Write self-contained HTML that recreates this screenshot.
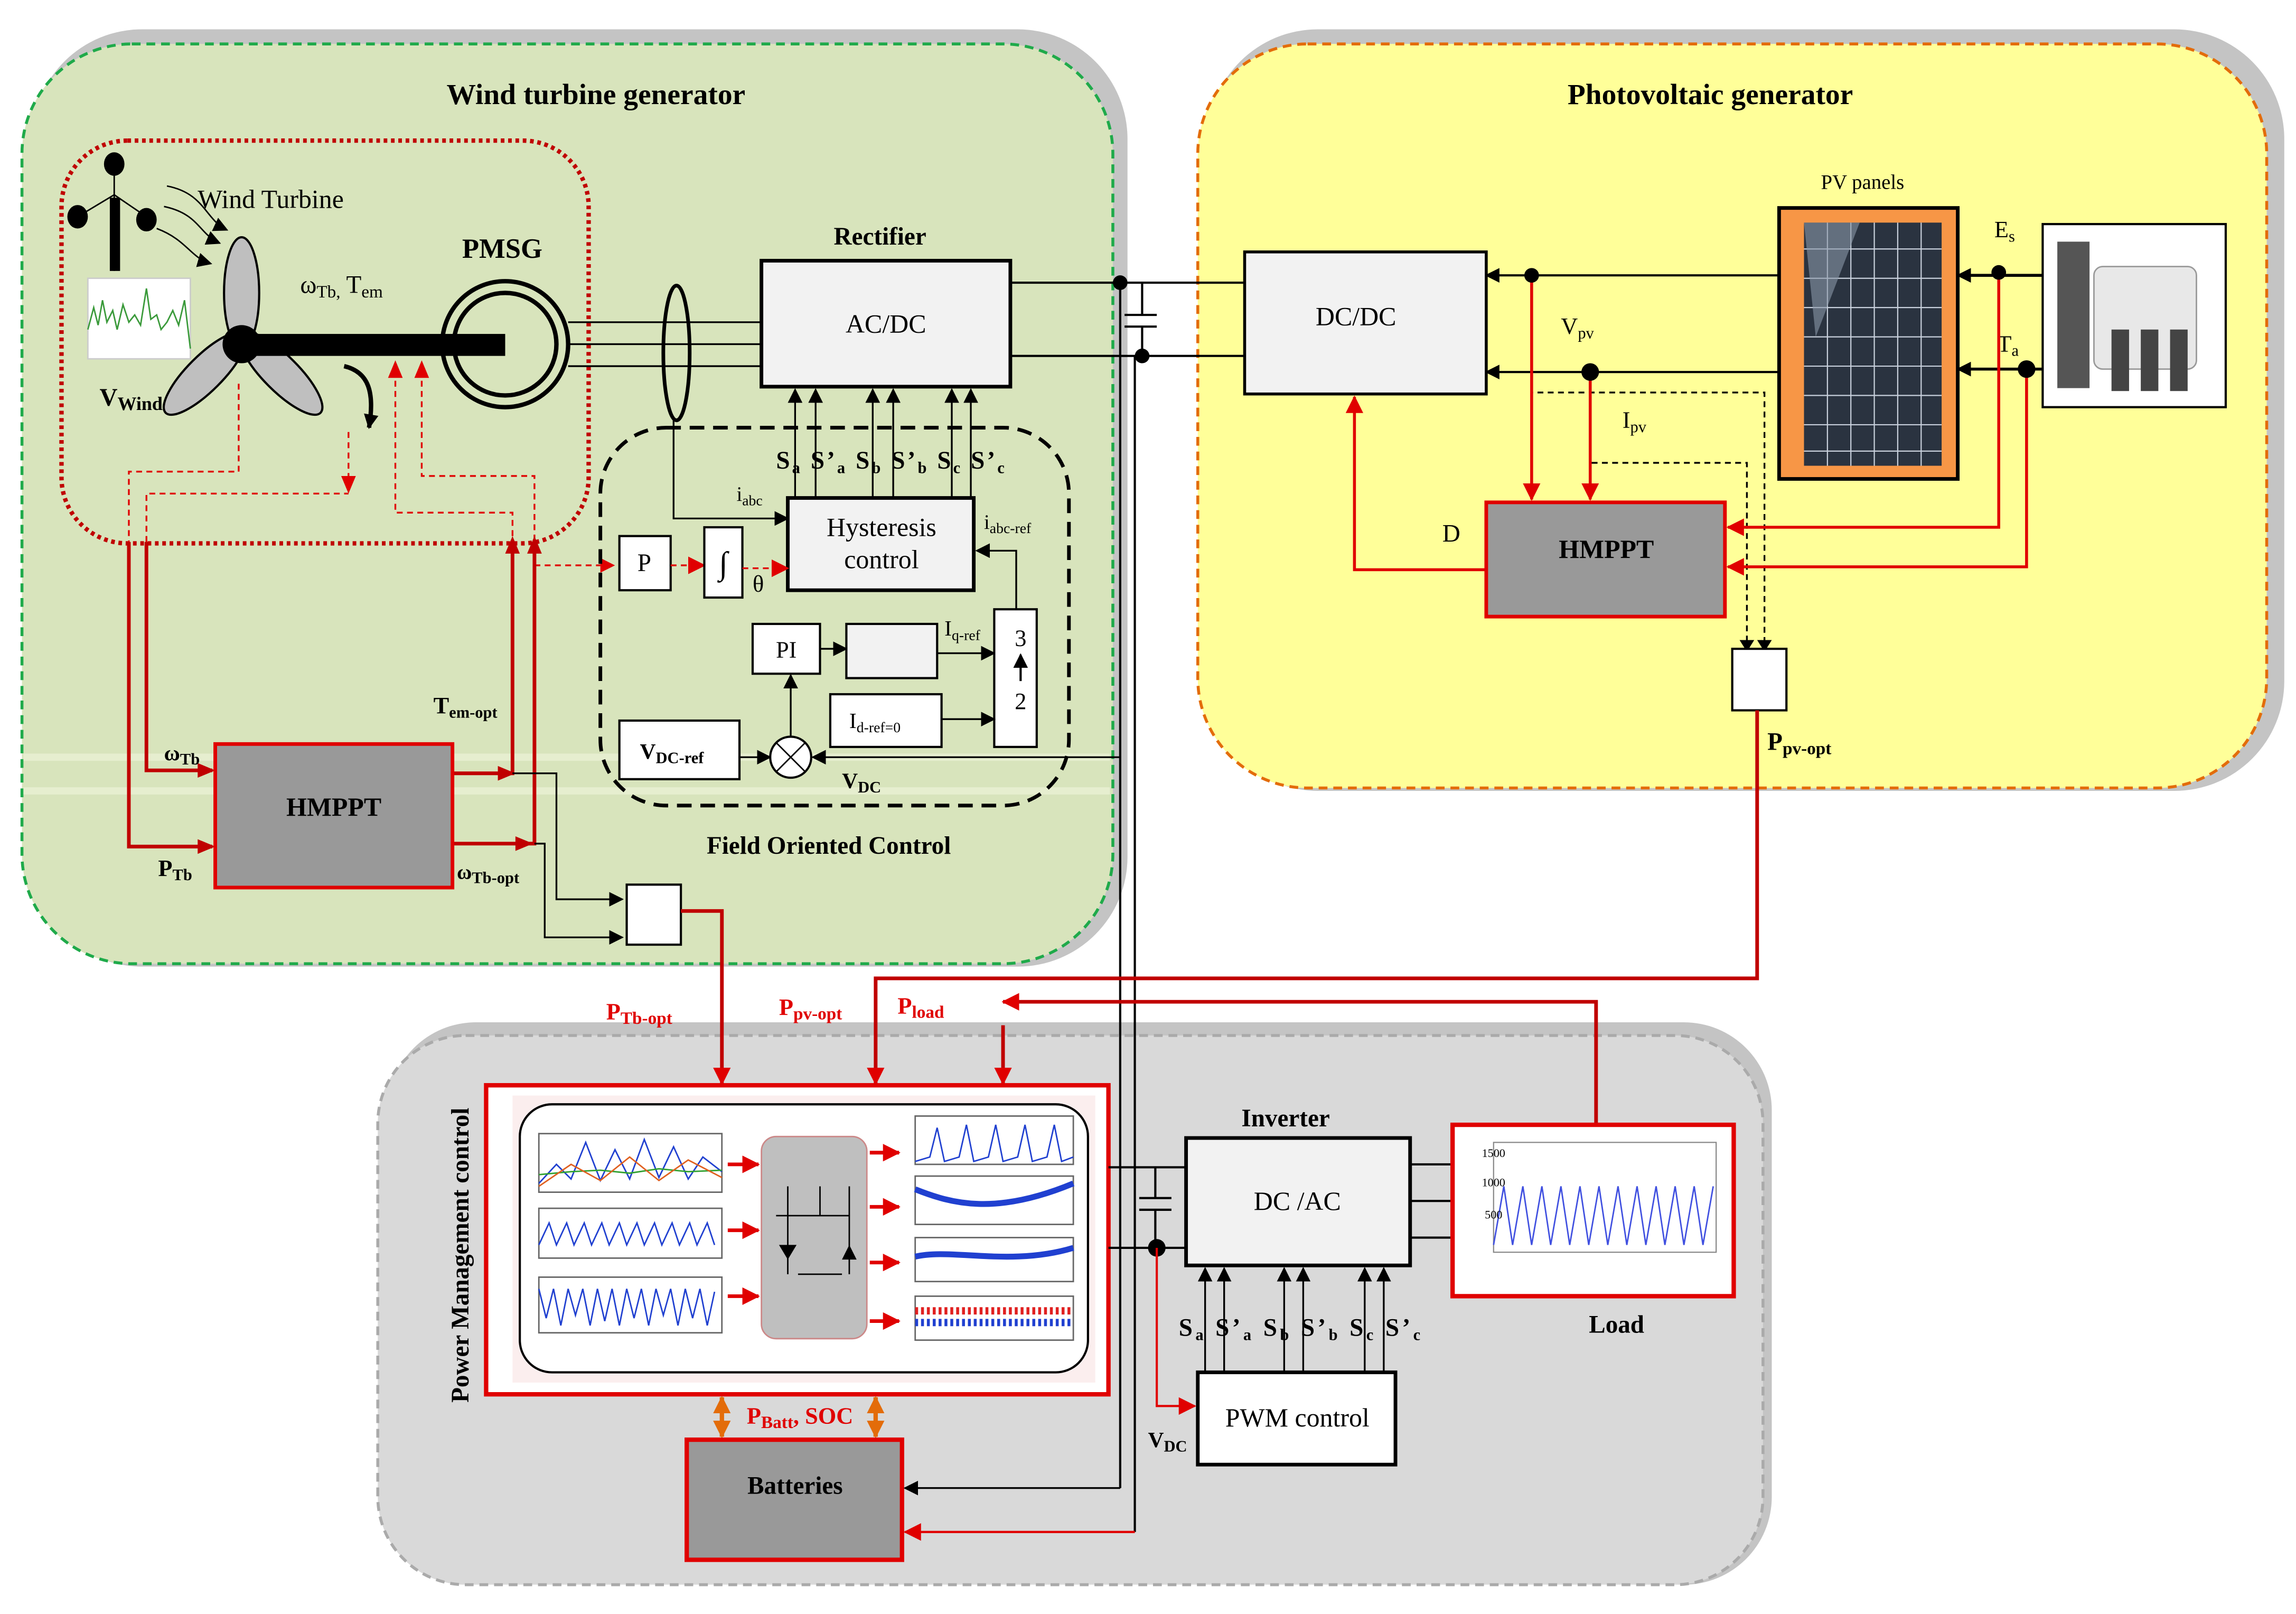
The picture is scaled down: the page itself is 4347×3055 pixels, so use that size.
<!DOCTYPE html>
<html><head><meta charset="utf-8"><style>
html,body{margin:0;padding:0;background:#fff;}
svg{display:block;}
text{font-family:"Liberation Serif",serif;}
</style></head><body>
<svg width="4347" height="3055" viewBox="0 0 1568 1102" preserveAspectRatio="none" xmlns="http://www.w3.org/2000/svg">
<defs>
<marker id="ab" markerWidth="10" markerHeight="10" refX="9" refY="5" orient="auto" markerUnits="userSpaceOnUse"><path d="M0,0 L10,5 L0,10 z" fill="#000"/></marker>
<marker id="ar" markerWidth="12" markerHeight="12" refX="11" refY="6" orient="auto" markerUnits="userSpaceOnUse"><path d="M0,0 L12,6 L0,12 z" fill="#e00000"/></marker>
<marker id="ao" markerWidth="12" markerHeight="12" refX="11" refY="6" orient="auto-start-reverse" markerUnits="userSpaceOnUse"><path d="M0,0 L12,6 L0,12 z" fill="#e36c0a"/></marker>
</defs>
<rect width="1568" height="1102" fill="#fff"/>
<rect x="22" y="20" width="748" height="640" rx="75" fill="#c4c4c4"/>
<rect x="825" y="20" width="735" height="520" rx="75" fill="#c4c4c4"/>
<rect x="265" y="698" width="945" height="384" rx="60" fill="#c4c4c4"/>
<rect x="15" y="30" width="745" height="628" rx="75" fill="#d8e4bc" stroke="#1faa4a" stroke-width="2" stroke-dasharray="6,4"/>
<line x1="16" y1="517" x2="758" y2="517" stroke="#e6eecf" stroke-width="5"/>
<line x1="16" y1="540" x2="758" y2="540" stroke="#e6eecf" stroke-width="5"/>
<rect x="818" y="30" width="730" height="508" rx="75" fill="#ffff99" stroke="#e36c0a" stroke-width="2" stroke-dasharray="6,4"/>
<rect x="258" y="707" width="946" height="375" rx="60" fill="#d9d9d9" stroke="#aaa" stroke-width="2" stroke-dasharray="6,4"/>

<text x="407" y="71" font-size="20" font-weight="bold" text-anchor="middle">Wind turbine generator</text>
<text x="1168" y="71" font-size="20" font-weight="bold" text-anchor="middle">Photovoltaic generator</text>

<rect x="42" y="96" width="360" height="275" rx="45" fill="none" stroke="#c00000" stroke-width="3" stroke-dasharray="2.5,2.5"/>
<line x1="78" y1="112" x2="78" y2="185" stroke="#000" stroke-width="1"/>
<rect x="75" y="135" width="7" height="50" fill="#000"/>
<line x1="78" y1="133" x2="53" y2="148" stroke="#000"/><line x1="78" y1="133" x2="100" y2="148" stroke="#000"/>
<ellipse cx="78" cy="112" rx="7" ry="8"/><ellipse cx="53" cy="148" rx="7" ry="8"/><ellipse cx="100" cy="150" rx="7" ry="8"/>
<path d="M114,127 C140,132 140,150 155,157" fill="none" stroke="#000" marker-end="url(#ab)"/>
<path d="M112,141 C136,146 136,160 150,166" fill="none" stroke="#000" marker-end="url(#ab)"/>
<path d="M107,156 C128,164 130,176 144,180" fill="none" stroke="#000" marker-end="url(#ab)"/>
<text x="135" y="142" font-size="18">Wind Turbine</text>
<rect x="60" y="190" width="70" height="55" fill="#fff" stroke="#ccc"/>
<polyline points="60,225 64,210 67,222 70,205 73,220 77,212 80,225 84,208 88,220 92,215 96,222 100,197 103,218 107,215 110,225 114,220 118,212 122,222 126,205 130,238" fill="none" stroke="#3a9a3a" stroke-width="1"/>
<ellipse cx="165" cy="200" rx="12" ry="38" fill="#bfbfbf" stroke="#000" stroke-width="1.5"/>
<ellipse cx="140" cy="255" rx="12" ry="38" fill="#bfbfbf" stroke="#000" stroke-width="1.5" transform="rotate(45 140 255)"/>
<ellipse cx="192" cy="255" rx="12" ry="38" fill="#bfbfbf" stroke="#000" stroke-width="1.5" transform="rotate(-45 192 255)"/>
<rect x="165" y="228" width="180" height="15" fill="#000"/>
<circle cx="165" cy="235" r="13" fill="#000"/>
<text x="68" y="277" font-size="17" font-weight="bold">V<tspan font-size="13" dy="3">Wind</tspan></text>
<text x="205" y="200" font-size="17">ω<tspan font-size="12" dy="3">Tb,</tspan><tspan dy="-3"> T</tspan><tspan font-size="12" dy="3">em</tspan></text>
<path d="M235,250 C252,254 256,268 252,292" fill="none" stroke="#000" stroke-width="3" marker-end="url(#ab)"/>
<circle cx="345" cy="235" r="43" fill="none" stroke="#000" stroke-width="3"/>
<circle cx="345" cy="235" r="35" fill="none" stroke="#000" stroke-width="3"/>
<text x="343" y="176" font-size="19" font-weight="bold" text-anchor="middle">PMSG</text>
<g stroke="#e00000" stroke-width="1.2" stroke-dasharray="4,3" fill="none">
<polyline points="163,262 163,322 88,322 88,370"/>
<polyline points="238,295 238,335"/>
<polyline points="100,370 100,337 238,337"/>
<polyline points="270,260 270,350 350,350 350,370"/>
<polyline points="288,260 288,325 365,325 365,370"/>
<polyline points="365,386 410,386"/>
</g>
<path d="M233,325 L238,337 L243,325z" fill="#e00000"/>
<path d="M265,258 L270,246 L275,258z" fill="#e00000"/>
<path d="M283,258 L288,246 L293,258z" fill="#e00000"/>
<path d="M410,381 L420,386 L410,391z" fill="#e00000"/>
<g stroke="#c00000" stroke-width="2.5" fill="none">
<polyline points="88,370 88,578 145,578"/>
<polyline points="100,370 100,526 145,526"/>
<polyline points="309,528 350,528 350,372"/>
<polyline points="309,576 365,576 365,372"/>
</g>
<path d="M135,521 L147,526 L135,531z" fill="#c00000"/><path d="M135,573 L147,578 L135,583z" fill="#c00000"/>
<path d="M345,378 L350,366 L355,378z" fill="#c00000"/><path d="M360,378 L365,366 L370,378z" fill="#c00000"/>
<path d="M340,523 L352,528 L340,533z" fill="#c00000"/><path d="M352,571 L364,576 L352,581z" fill="#c00000"/>
<rect x="147" y="508" width="162" height="98" fill="#999" stroke="#e00000" stroke-width="2.5"/>
<text x="228" y="557" font-size="18" font-weight="bold" text-anchor="middle">HMPPT</text>
<text x="112" y="519" font-size="15" font-weight="bold">ω<tspan font-size="11" dy="3">Tb</tspan></text>
<text x="108" y="598" font-size="16" font-weight="bold">P<tspan font-size="11" dy="3">Tb</tspan></text>
<text x="296" y="487" font-size="16" font-weight="bold">T<tspan font-size="11" dy="3">em-opt</tspan></text>
<text x="312" y="600" font-size="14" font-weight="bold">ω<tspan font-size="11" dy="3">Tb-opt</tspan></text>
<polyline points="350,528 380,528 380,614 425,614" fill="none" stroke="#000" stroke-width="1.2" marker-end="url(#ab)"/>
<polyline points="365,576 372,576 372,640 425,640" fill="none" stroke="#000" stroke-width="1.2" marker-end="url(#ab)"/>
<rect x="428" y="604" width="37" height="41" fill="#fff" stroke="#000" stroke-width="1.5"/>
<polyline points="465,622 493,622 493,740" fill="none" stroke="#c00000" stroke-width="2.5" marker-end="url(#ar)"/>

<g stroke="#000" stroke-width="1.2"><line x1="388" y1="220" x2="520" y2="220"/><line x1="388" y1="235" x2="520" y2="235"/><line x1="388" y1="250" x2="520" y2="250"/></g>
<ellipse cx="462" cy="241" rx="9" ry="46" fill="none" stroke="#000" stroke-width="2.5"/>
<polyline points="460,287 460,354 538,354" fill="none" stroke="#000" stroke-width="1.2" marker-end="url(#ab)"/>
<rect x="520" y="178" width="170" height="86" fill="#f2f2f2" stroke="#000" stroke-width="2.5"/>
<text x="605" y="227" font-size="18" text-anchor="middle">AC/DC</text>
<text x="601" y="167" font-size="17" font-weight="bold" text-anchor="middle">Rectifier</text>
<rect x="410" y="292" width="320" height="258" rx="45" fill="none" stroke="#000" stroke-width="2.5" stroke-dasharray="10,6"/>
<text x="566" y="583" font-size="17" font-weight="bold" text-anchor="middle">Field Oriented Control</text>
<g stroke="#000" stroke-width="1.2">
<line x1="543" y1="340" x2="543" y2="266" marker-end="url(#ab)"/>
<line x1="557" y1="340" x2="557" y2="266" marker-end="url(#ab)"/>
<line x1="596" y1="340" x2="596" y2="266" marker-end="url(#ab)"/>
<line x1="610" y1="340" x2="610" y2="266" marker-end="url(#ab)"/>
<line x1="650" y1="340" x2="650" y2="266" marker-end="url(#ab)"/>
<line x1="663" y1="340" x2="663" y2="266" marker-end="url(#ab)"/>
</g>
<text x="530" y="320" font-size="17" font-weight="bold" textLength="156" lengthAdjust="spacing">S<tspan font-size="11" dy="3">a</tspan><tspan dy="-3"> S’</tspan><tspan font-size="11" dy="3">a</tspan><tspan dy="-3"> S</tspan><tspan font-size="11" dy="3">b</tspan><tspan dy="-3">  S’</tspan><tspan font-size="11" dy="3">b</tspan><tspan dy="-3"> S</tspan><tspan font-size="11" dy="3">c</tspan><tspan dy="-3">  S’</tspan><tspan font-size="11" dy="3">c</tspan></text>
<text x="503" y="342" font-size="14">i<tspan font-size="10" dy="3">abc</tspan></text>
<rect x="538" y="340" width="127" height="63" fill="#f2f2f2" stroke="#000" stroke-width="2.5"/>
<text x="602" y="366" font-size="18" text-anchor="middle">Hysteresis</text>
<text x="602" y="388" font-size="18" text-anchor="middle">control</text>
<text x="672" y="361" font-size="14">i<tspan font-size="10" dy="3">abc-ref</tspan></text>
<polyline points="694,416 694,376 667,376" fill="none" stroke="#000" stroke-width="1.2" marker-end="url(#ab)"/>
<rect x="423" y="366" width="35" height="37" fill="#fff" stroke="#000" stroke-width="1.5"/>
<text x="440" y="390" font-size="17" text-anchor="middle">P</text>
<line x1="458" y1="386" x2="481" y2="386" stroke="#e00000" stroke-width="1.2" stroke-dasharray="4,3" marker-end="url(#ar)"/>
<rect x="481" y="360" width="26" height="48" fill="#fff" stroke="#000" stroke-width="1.5"/>
<text x="494" y="392" font-size="22" text-anchor="middle">∫</text>
<line x1="507" y1="388" x2="538" y2="388" stroke="#e00000" stroke-width="1.2" stroke-dasharray="4,3" marker-end="url(#ar)"/>
<text x="514" y="404" font-size="16">θ</text>
<line x1="540" y1="503" x2="540" y2="461" stroke="#000" stroke-width="1.2" marker-end="url(#ab)"/>
<rect x="514" y="426" width="46" height="34" fill="#fff" stroke="#000" stroke-width="1.5"/>
<text x="537" y="449" font-size="16" text-anchor="middle">PI</text>
<line x1="560" y1="443" x2="578" y2="443" stroke="#000" stroke-width="1.2" marker-end="url(#ab)"/>
<rect x="578" y="426" width="62" height="37" fill="#f2f2f2" stroke="#000" stroke-width="1.5"/>
<line x1="640" y1="446" x2="679" y2="446" stroke="#000" stroke-width="1.2" marker-end="url(#ab)"/>
<text x="645" y="434" font-size="15">I<tspan font-size="10" dy="3">q-ref</tspan></text>
<rect x="679" y="416" width="29" height="94" fill="#fff" stroke="#000" stroke-width="1.5"/>
<text x="697" y="441" font-size="16" text-anchor="middle">3</text>
<line x1="697" y1="465" x2="697" y2="447" stroke="#000" stroke-width="1.5" marker-end="url(#ab)"/>
<text x="697" y="484" font-size="16" text-anchor="middle">2</text>
<rect x="567" y="474" width="76" height="36" fill="#fff" stroke="#000" stroke-width="1.5"/>
<text x="580" y="497" font-size="15">I<tspan font-size="10" dy="3">d-ref=0</tspan></text>
<line x1="643" y1="491" x2="679" y2="491" stroke="#000" stroke-width="1.2" marker-end="url(#ab)"/>
<rect x="423" y="492" width="82" height="40" fill="#fff" stroke="#000" stroke-width="1.5"/>
<text x="437" y="518" font-size="15" font-weight="bold">V<tspan font-size="11" dy="3">DC-ref</tspan></text>
<line x1="505" y1="517" x2="526" y2="517" stroke="#000" stroke-width="1.2" marker-end="url(#ab)"/>
<circle cx="540" cy="517" r="14" fill="#fff" stroke="#000" stroke-width="1.5"/>
<line x1="530" y1="507" x2="550" y2="527" stroke="#000"/><line x1="550" y1="507" x2="530" y2="527" stroke="#000"/>
<line x1="765" y1="517" x2="555" y2="517" stroke="#000" stroke-width="1.2" marker-end="url(#ab)"/>
<text x="575" y="538" font-size="15" font-weight="bold">V<tspan font-size="11" dy="3">DC</tspan></text>

<g stroke="#000" stroke-width="1.5">
<line x1="690" y1="193" x2="850" y2="193"/>
<line x1="690" y1="243" x2="850" y2="243"/>
<line x1="765" y1="193" x2="765" y2="1016"/>
<line x1="775" y1="243" x2="775" y2="1046"/>
<line x1="768" y1="215" x2="790" y2="215"/><line x1="768" y1="223" x2="790" y2="223"/>
<line x1="780" y1="193" x2="780" y2="215"/><line x1="780" y1="223" x2="780" y2="243"/>
</g>
<circle cx="765" cy="193" r="5"/><circle cx="780" cy="243" r="5"/>
<rect x="850" y="172" width="165" height="97" fill="#f2f2f2" stroke="#000" stroke-width="2"/>
<text x="926" y="222" font-size="18" text-anchor="middle">DC/DC</text>
<rect x="1215" y="142" width="122" height="185" fill="#f79646" stroke="#000" stroke-width="2.5"/>
<rect x="1232" y="152" width="94" height="166" fill="#2a3340"/>
<g stroke="#c8d0dc" stroke-width="0.8">
<line x1="1232" y1="170" x2="1326" y2="170"/><line x1="1232" y1="190" x2="1326" y2="190"/><line x1="1232" y1="210" x2="1326" y2="210"/><line x1="1232" y1="230" x2="1326" y2="230"/><line x1="1232" y1="250" x2="1326" y2="250"/><line x1="1232" y1="270" x2="1326" y2="270"/><line x1="1232" y1="290" x2="1326" y2="290"/><line x1="1232" y1="308" x2="1326" y2="308"/>
<line x1="1248" y1="152" x2="1248" y2="318"/><line x1="1264" y1="152" x2="1264" y2="318"/><line x1="1280" y1="152" x2="1280" y2="318"/><line x1="1296" y1="152" x2="1296" y2="318"/><line x1="1312" y1="152" x2="1312" y2="318"/>
</g>
<path d="M1232,152 L1270,152 L1240,230z" fill="#8a98a8" opacity="0.6"/>
<text x="1272" y="129" font-size="14" text-anchor="middle">PV panels</text>
<rect x="1395" y="153" width="125" height="125" fill="#fff" stroke="#000" stroke-width="1.5"/>
<rect x="1405" y="165" width="22" height="100" fill="#555"/>
<rect x="1430" y="182" width="70" height="70" rx="6" fill="#e8e8e8" stroke="#999"/>
<rect x="1442" y="225" width="12" height="42" fill="#444"/><rect x="1462" y="225" width="12" height="42" fill="#444"/><rect x="1482" y="225" width="12" height="42" fill="#444"/>
<text x="1362" y="162" font-size="16">E<tspan font-size="11" dy="3">s</tspan></text>
<text x="1364" y="240" font-size="16">T<tspan font-size="11" dy="3">a</tspan></text>
<line x1="1395" y1="188" x2="1337" y2="188" stroke="#000" stroke-width="2" marker-end="url(#ab)"/>
<line x1="1395" y1="252" x2="1337" y2="252" stroke="#000" stroke-width="2" marker-end="url(#ab)"/>
<line x1="1215" y1="188" x2="1015" y2="188" stroke="#000" stroke-width="1.5" marker-end="url(#ab)"/>
<line x1="1215" y1="254" x2="1015" y2="254" stroke="#000" stroke-width="1.5" marker-end="url(#ab)"/>
<text x="1066" y="228" font-size="16">V<tspan font-size="11" dy="3">pv</tspan></text>
<text x="1108" y="292" font-size="16">I<tspan font-size="11" dy="3">pv</tspan></text>
<g stroke="#000" stroke-width="1.2" stroke-dasharray="4,3" fill="none">
<polyline points="1046,188 1046,268 1205,268 1205,443"/>
<polyline points="1086,254 1086,316 1193,316 1193,443"/>
</g>
<path d="M1188,437 L1193,445 L1198,437z"/><path d="M1200,437 L1205,445 L1210,437z"/>
<g stroke="#e00000" stroke-width="2" fill="none">
<line x1="1046" y1="188" x2="1046" y2="341" marker-end="url(#ar)"/>
<line x1="1086" y1="254" x2="1086" y2="341" marker-end="url(#ar)"/>
<polyline points="1365,186 1365,360 1180,360" marker-end="url(#ar)"/>
<polyline points="1384,252 1384,387 1180,387" marker-end="url(#ar)"/>
<polyline points="1015,389 925,389 925,271" marker-end="url(#ar)"/>
</g>
<circle cx="1046" cy="188" r="5"/><circle cx="1086" cy="254" r="6"/><circle cx="1365" cy="186" r="5"/><circle cx="1384" cy="252" r="6"/>
<rect x="1015" y="343" width="163" height="78" fill="#999" stroke="#e00000" stroke-width="2.5"/>
<text x="1097" y="381" font-size="18" font-weight="bold" text-anchor="middle">HMPPT</text>
<text x="985" y="370" font-size="17">D</text>
<rect x="1183" y="443" width="37" height="42" fill="#fff" stroke="#000" stroke-width="1.5"/>
<text x="1207" y="512" font-size="17" font-weight="bold">P<tspan font-size="12" dy="3">pv-opt</tspan></text>
<polyline points="1200,485 1200,668 598,668 598,740" fill="none" stroke="#c00000" stroke-width="2.5" marker-end="url(#ar)"/>
<polyline points="1090,768 1090,684 685,684" fill="none" stroke="#c00000" stroke-width="2.5" marker-end="url(#ar)"/>
<line x1="685" y1="700" x2="685" y2="740" stroke="#c00000" stroke-width="2.5" marker-end="url(#ar)"/>
<text x="414" y="696" font-size="16" font-weight="bold" fill="#e00000">P<tspan font-size="12" dy="3">Tb-opt</tspan></text>
<text x="532" y="693" font-size="16" font-weight="bold" fill="#e00000">P<tspan font-size="12" dy="3">pv-opt</tspan></text>
<text x="613" y="692" font-size="16" font-weight="bold" fill="#e00000">P<tspan font-size="12" dy="3">load</tspan></text>

<rect x="332" y="741" width="425" height="211" fill="#fff" stroke="#e00000" stroke-width="3"/>
<rect x="350" y="748" width="398" height="196" fill="#fbeeee"/>
<rect x="355" y="754" width="388" height="183" rx="22" fill="#fff" stroke="#000" stroke-width="1.5"/>
<text x="320" y="857" font-size="17" font-weight="bold" text-anchor="middle" transform="rotate(-90 320 857)">Power Management control</text>
<g fill="none" stroke-width="1">
<rect x="368" y="774" width="125" height="40" stroke="#666"/>
<polyline points="368,808 380,795 390,805 400,780 410,806 420,785 430,805 440,778 450,804 460,783 470,805 480,790 493,800" stroke="#2040d0"/>
<polyline points="368,802 390,800 410,799 430,801 450,798 470,800 493,799" stroke="#30a030"/>
<polyline points="368,810 390,795 410,806 430,790 450,806 470,792 493,804" stroke="#e06020"/>
<rect x="368" y="825" width="125" height="34" stroke="#666"/>
<polyline points="368,850 375,835 380,850 387,835 392,850 399,835 404,850 411,835 416,850 423,835 428,850 435,835 440,850 447,835 452,850 459,835 464,850 471,835 476,850 483,835 488,850" stroke="#2040d0"/>
<rect x="368" y="872" width="125" height="38" stroke="#666"/>
<polyline points="368,880 373,900 378,880 383,905 388,880 393,898 398,880 403,905 408,880 413,902 418,880 423,905 428,880 433,900 438,880 443,905 448,880 453,898 458,880 463,905 468,880 473,900 478,880 483,905 488,882" stroke="#2040d0"/>
<rect x="625" y="762" width="108" height="33" stroke="#666"/>
<polyline points="625,793 635,790 640,770 645,793 655,790 660,768 665,793 675,790 680,768 685,793 695,790 700,768 705,793 715,790 720,768 725,793 733,790" stroke="#2040d0"/>
<rect x="625" y="803" width="108" height="33" stroke="#666"/>
<path d="M625,812 C650,822 680,830 733,808" stroke="#2040d0" stroke-width="4"/>
<rect x="625" y="845" width="108" height="30" stroke="#666"/>
<path d="M625,858 C650,852 690,865 733,852" stroke="#2040d0" stroke-width="4"/>
<rect x="625" y="885" width="108" height="30" stroke="#666"/>
<path d="M625,895 L733,895" stroke="#e02020" stroke-width="5" stroke-dasharray="2,2"/>
<path d="M625,903 L733,903" stroke="#2040d0" stroke-width="5" stroke-dasharray="2,2"/>
</g>
<rect x="520" y="776" width="72" height="138" rx="10" fill="#bfbfbf" stroke="#c88"/>
<g stroke="#000" stroke-width="1" fill="none">
<polyline points="530,830 580,830"/><line x1="538" y1="810" x2="538" y2="830"/><line x1="560" y1="810" x2="560" y2="830"/><line x1="580" y1="810" x2="580" y2="830"/>
<line x1="538" y1="830" x2="538" y2="870"/><line x1="580" y1="830" x2="580" y2="870"/><line x1="545" y1="870" x2="575" y2="870"/>
</g>
<path d="M532,850 L544,850 L538,860z"/><path d="M575,860 L585,860 L580,850z"/>
<g stroke="#e00000" stroke-width="2.5">
<line x1="497" y1="795" x2="518" y2="795" marker-end="url(#ar)"/><line x1="497" y1="840" x2="518" y2="840" marker-end="url(#ar)"/><line x1="497" y1="885" x2="518" y2="885" marker-end="url(#ar)"/>
<line x1="594" y1="787" x2="614" y2="787" marker-end="url(#ar)"/><line x1="594" y1="824" x2="614" y2="824" marker-end="url(#ar)"/><line x1="594" y1="862" x2="614" y2="862" marker-end="url(#ar)"/><line x1="594" y1="902" x2="614" y2="902" marker-end="url(#ar)"/>
</g>
<line x1="493" y1="954" x2="493" y2="981" stroke="#e36c0a" stroke-width="3" marker-start="url(#ao)" marker-end="url(#ao)"/>
<line x1="598" y1="954" x2="598" y2="981" stroke="#e36c0a" stroke-width="3" marker-start="url(#ao)" marker-end="url(#ao)"/>
<text x="510" y="972" font-size="16" font-weight="bold" fill="#e00000">P<tspan font-size="12" dy="3">Batt</tspan><tspan dy="-3">,  SOC</tspan></text>
<rect x="469" y="983" width="147" height="82" fill="#999" stroke="#e00000" stroke-width="3"/>
<text x="543" y="1020" font-size="17" font-weight="bold" text-anchor="middle">Batteries</text>
<line x1="765" y1="1016" x2="618" y2="1016" stroke="#000" stroke-width="1.2" marker-end="url(#ab)"/>
<line x1="775" y1="1046" x2="618" y2="1046" stroke="#e00000" stroke-width="1.5" marker-end="url(#ar)"/>
<g stroke="#000" stroke-width="1.5">
<line x1="757" y1="797" x2="810" y2="797"/><line x1="757" y1="852" x2="810" y2="852"/>
<line x1="778" y1="818" x2="800" y2="818"/><line x1="778" y1="826" x2="800" y2="826"/>
<line x1="789" y1="797" x2="789" y2="818"/><line x1="789" y1="826" x2="789" y2="852"/>
<line x1="963" y1="795" x2="992" y2="795"/><line x1="963" y1="820" x2="992" y2="820"/><line x1="963" y1="845" x2="992" y2="845"/>
</g>
<circle cx="790" cy="852" r="6"/>
<polyline points="790,852 790,960 816,960" fill="none" stroke="#e00000" stroke-width="1.5" marker-end="url(#ar)"/>
<rect x="810" y="777" width="153" height="87" fill="#f2f2f2" stroke="#000" stroke-width="2.5"/>
<text x="886" y="826" font-size="18" text-anchor="middle">DC /AC</text>
<text x="878" y="769" font-size="17" font-weight="bold" text-anchor="middle">Inverter</text>
<g stroke="#000" stroke-width="1.2">
<line x1="823" y1="937" x2="823" y2="866" marker-end="url(#ab)"/><line x1="836" y1="937" x2="836" y2="866" marker-end="url(#ab)"/>
<line x1="877" y1="937" x2="877" y2="866" marker-end="url(#ab)"/><line x1="890" y1="937" x2="890" y2="866" marker-end="url(#ab)"/>
<line x1="932" y1="937" x2="932" y2="866" marker-end="url(#ab)"/><line x1="945" y1="937" x2="945" y2="866" marker-end="url(#ab)"/>
</g>
<text x="805" y="912" font-size="17" font-weight="bold" textLength="165" lengthAdjust="spacing">S<tspan font-size="11" dy="3">a</tspan><tspan dy="-3"> S’</tspan><tspan font-size="11" dy="3">a</tspan><tspan dy="-3"> S</tspan><tspan font-size="11" dy="3">b</tspan><tspan dy="-3">  S’</tspan><tspan font-size="11" dy="3">b</tspan><tspan dy="-3"> S</tspan><tspan font-size="11" dy="3">c</tspan><tspan dy="-3">  S’</tspan><tspan font-size="11" dy="3">c</tspan></text>
<rect x="818" y="937" width="135" height="63" fill="#fff" stroke="#000" stroke-width="2.5"/>
<text x="886" y="974" font-size="18" text-anchor="middle">PWM control</text>
<text x="784" y="988" font-size="15" font-weight="bold">V<tspan font-size="11" dy="3">DC</tspan></text>
<rect x="992" y="768" width="192" height="117" fill="#fff" stroke="#e00000" stroke-width="3"/>
<rect x="1020" y="780" width="152" height="75" fill="#fff" stroke="#888" stroke-width="0.8"/>
<polyline points="1020,850 1027,810 1030,830 1033,850 1040,810 1043,830 1046,850 1053,810 1056,830 1059,850 1066,810 1069,830 1072,850 1079,810 1082,830 1085,850 1092,810 1095,830 1098,850 1105,810 1108,830 1111,850 1118,810 1121,830 1124,850 1131,810 1134,830 1137,850 1144,810 1147,830 1150,850 1157,810 1160,830 1163,850 1170,810" fill="none" stroke="#4050e0" stroke-width="1"/>
<text x="1012" y="790" font-size="8">1500</text><text x="1012" y="810" font-size="8">1000</text><text x="1014" y="832" font-size="8">500</text>
<text x="1104" y="910" font-size="17" font-weight="bold" text-anchor="middle">Load</text>
</svg>
</body></html>
